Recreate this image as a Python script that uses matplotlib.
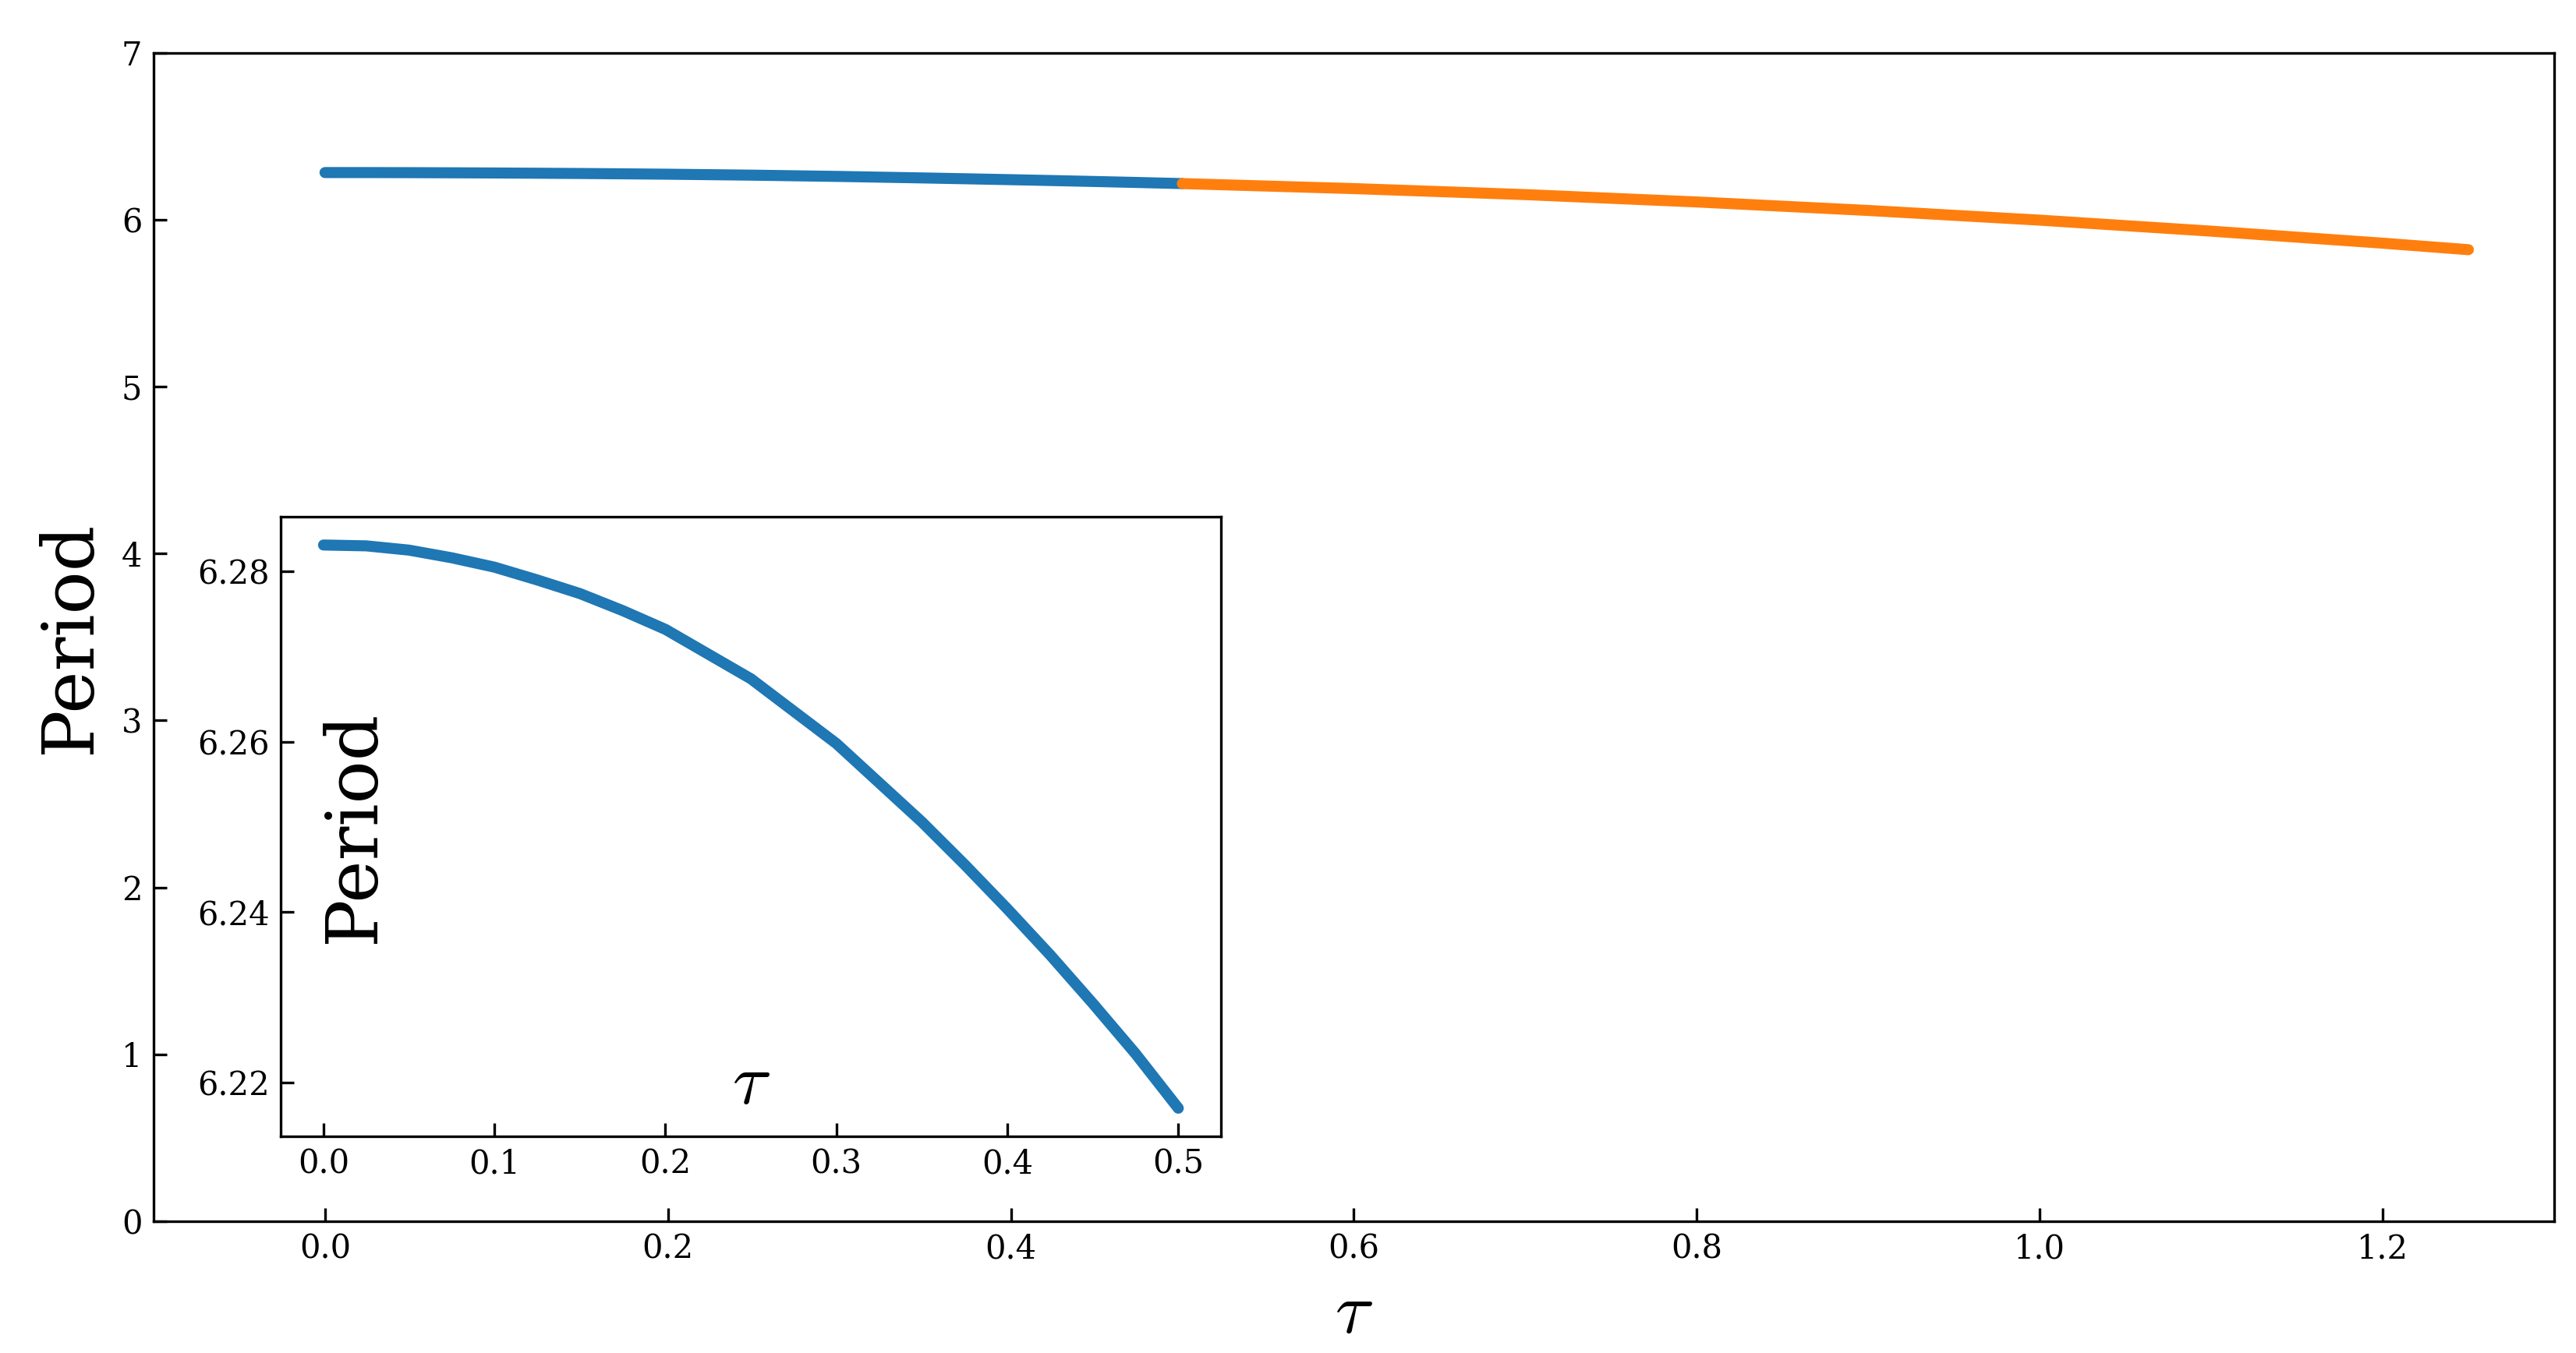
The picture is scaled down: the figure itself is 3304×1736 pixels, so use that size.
#!/usr/bin/env python3
"""
Period vs delay tau: full range with an inset zoom on the small-tau branch.
"""
import numpy as np
import matplotlib
matplotlib.use("Agg")
import matplotlib.pyplot as plt

plt.rcParams['font.family'] = 'serif'
plt.rcParams['font.serif'] = ['DejaVu Serif']
plt.rcParams['mathtext.fontset'] = 'cm'

# branch 1 (small delay)
tau_small = [0.0, 0.025, 0.05, 0.075, 0.10, 0.125, 0.15, 0.175, 0.20, 0.225,
             0.25, 0.275, 0.30, 0.325, 0.35, 0.375, 0.40, 0.425, 0.45, 0.475,
             0.50]
period_small = [6.2831, 6.2830, 6.2825, 6.2816, 6.2805, 6.2790, 6.2774, 6.2754,
                6.2732, 6.2703, 6.2674, 6.2636, 6.2598, 6.2552, 6.2506, 6.2456,
                6.2404, 6.2350, 6.2293, 6.2234, 6.2170]

# branch 2 (larger delay)
tau_large = [0.50, 0.60, 0.70, 0.80, 0.90, 1.00, 1.10, 1.20, 1.25]
period_large = [6.2170, 6.187, 6.151, 6.107, 6.056, 5.998, 5.932, 5.860, 5.821]

main_yticks = [0, 1, 2, 3, 4, 5, 6, 7]
inset_yticks = [6.22, 6.24, 6.26, 6.28]

BLUE = '#1f77b4'
ORANGE = '#ff7f0e'
LW = 3.4


def style_ticks(ax):
    ax.tick_params(direction='in', length=4, labelsize=10,
                   top=False, right=False)


fig = plt.figure(figsize=(3304 / 300, 1736 / 300), dpi=300)

# main panel
ax = fig.add_axes([0.0596, 0.0974, 0.9319, 0.8635])
ax.plot(tau_small, period_small, color=BLUE, lw=LW, solid_capstyle='round')
ax.plot(tau_large, period_large, color=ORANGE, lw=LW, solid_capstyle='round')
ax.set_xlim(-0.1, 1.3)
ax.set_ylim(0, 7)
ax.set_yticks(main_yticks)
ax.set_xticks(np.arange(0, 1.21, 0.2))
style_ticks(ax)
ax.set_xlabel(r'$\tau$', fontsize=22)
ax.set_ylabel('Period', fontsize=22, labelpad=5)

# inset
ax_in = fig.add_axes([0.1090, 0.1601, 0.3650, 0.4579])
ax_in.plot(tau_small, period_small, color=BLUE, lw=LW, solid_capstyle='round')
ax_in.set_yticks(inset_yticks)
ax_in.set_xticks(np.arange(0, 0.51, 0.1))
style_ticks(ax_in)
ax_in.set_xlabel(r'$\tau$', fontsize=22)
ax_in.set_ylabel('Period', fontsize=22)
ax_in.xaxis.set_label_coords(0.5, 0.14)
ax_in.yaxis.set_label_coords(0.115, 0.5)

fig.savefig('out.png', dpi=300)
